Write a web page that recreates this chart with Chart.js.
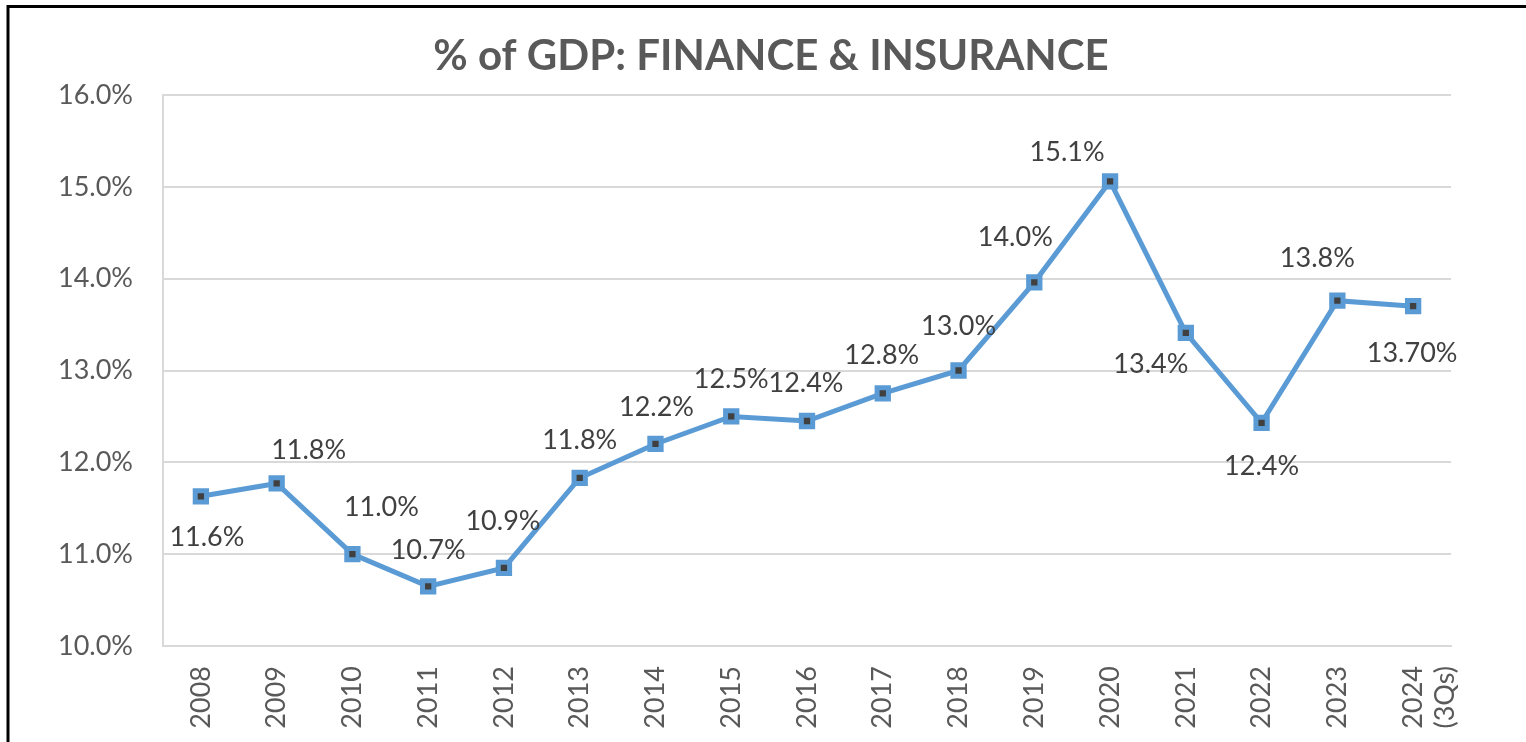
<!DOCTYPE html>
<html>
<head>
<meta charset="utf-8">
<script src="https://cdn.jsdelivr.net/npm/chart.js@4/dist/chart.umd.min.js"></script>
<style>
  html, body { margin: 0; padding: 0; background: #fff; }
  #wrap { width: 1526px; height: 742px; position: relative; }
</style>
</head>
<body>
<div id="wrap"><canvas id="gdp-line"></canvas></div>
<script>
const years = ['2008', '2009', '2010', '2011', '2012', '2013', '2014', '2015', '2016',
  '2017', '2018', '2019', '2020', '2021', '2022', '2023', ['2024', '(3Qs)']]
const financeShare = [11.63, 11.77, 11.0, 10.65, 10.85, 11.83, 12.2, 12.5, 12.45,
  12.75, 13.0, 13.96, 15.06, 13.41, 12.43, 13.76, 13.7]
const pointLabels = ['11.6%', '11.8%', '11.0%', '10.7%', '10.9%', '11.8%', '12.2%', '12.5%', '12.4%',
  '12.8%', '13.0%', '14.0%', '15.1%', '13.4%', '12.4%', '13.8%', '13.70%']
// where each label sits relative to its point (Excel had them nudged by hand)
const labelShift = [[6, 41], [32, -33], [29, -47], [0, -36], [-1, -47], [0, -38], [1, -37], [0, -37], [-1, -38],
  [-1, -38], [0, -44], [-19, -45], [-43, -29], [-35, 31], [0, 43], [-20, -42], [-1, 47]]

const FONT = 'Lato, "Open Sans", sans-serif'

const extras = {
  id: 'extras',
  beforeDraw(chart) {
    const c = chart.ctx
    c.save()
    c.fillStyle = '#fff'
    c.fillRect(0, 0, chart.width, chart.height)
    c.strokeStyle = '#000'
    c.lineWidth = 3
    c.beginPath()
    c.moveTo(8, chart.height)
    c.lineTo(8, 6.5)
    c.lineTo(chart.width, 6.5)
    c.stroke()
    c.restore()
  },
  afterDatasetsDraw(chart) {
    const c = chart.ctx
    const pts = chart.getDatasetMeta(0).data
    c.save()
    c.font = '27px ' + FONT
    c.fillStyle = '#404040'
    c.textAlign = 'center'
    c.textBaseline = 'middle'
    pts.forEach((p, i) => {
      c.fillText(pointLabels[i], p.x + labelShift[i][0], p.y + labelShift[i][1])
    })
    // title
    c.font = 'bold 42px ' + FONT
    c.fillStyle = '#595959'
    c.fillText('% of GDP: FINANCE & INSURANCE', 771, 56)
    c.restore()
  }
}

const ctx = document.getElementById('gdp-line').getContext('2d')

const lineChart = new Chart(ctx, {
  type: 'line',
  data: {
    labels: years,
    datasets: [{
      data: financeShare,
      borderColor: '#5b9bd5',
      borderWidth: 5,
      pointStyle: 'rect',
      pointRadius: 8,
      pointBorderWidth: 5,
      pointBorderColor: '#5b9bd5',
      pointBackgroundColor: '#404040',
      tension: 0
    }]
  },
  options: {
    responsive: true,
    maintainAspectRatio: false,
    animation: false,
    layout: { padding: { top: 95, right: 75, left: 0, bottom: 0 } },
    plugins: {
      legend: { display: false },
      title: { display: false },
      tooltip: { enabled: false }
    },
    scales: {
      x: {
        offset: true,
        grid: { display: false, drawTicks: false },
        border: { display: true, color: '#d9d9d9', width: 2 },
        ticks: {
          color: '#595959',
          font: { family: FONT, size: 27 },
          maxRotation: 90,
          minRotation: 90,
          padding: 20,
          autoSkip: false
        },
        afterFit(scale) { scale.height = 96 }
      },
      y: {
        min: 10,
        max: 16,
        grid: { color: '#d9d9d9', lineWidth: 2, drawTicks: false },
        border: { display: true, color: '#d9d9d9', width: 2 },
        ticks: {
          stepSize: 1,
          color: '#595959',
          font: { family: FONT, size: 27 },
          padding: 30,
          callback: v => v.toFixed(1) + '%'
        },
        afterFit(scale) { scale.width = 163 }
      }
    }
  },
  plugins: [extras]
})
</script>
</body>
</html>
